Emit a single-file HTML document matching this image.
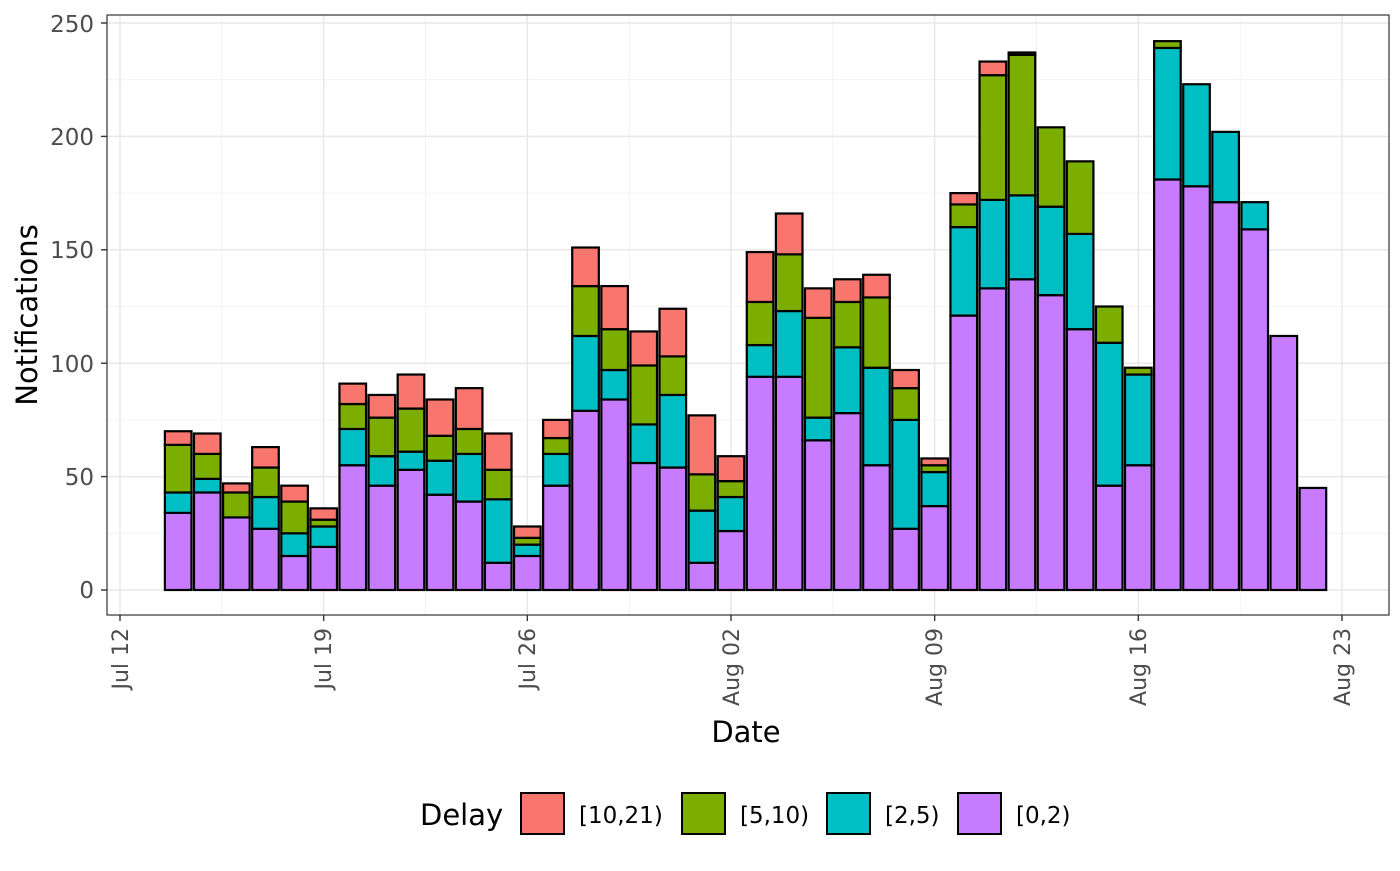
<!DOCTYPE html>
<html><head><meta charset="utf-8"><style>
body{margin:0;background:#fff;}
svg text{font-family:"DejaVu Sans","Liberation Sans",sans-serif;}
</style></head><body>
<svg id="s" width="1400" height="866" xmlns="http://www.w3.org/2000/svg">
<rect x="0" y="0" width="1400" height="866" fill="#fff"/>
<g id="grid"></g>
<g id="bars"></g>
<rect x="107" y="15" width="1282" height="600" fill="none" stroke="#333" stroke-width="1.2"/>
<g font-size="23" fill="#4D4D4D" text-anchor="end">
<text x="94" y="598">0</text><text x="94" y="485">50</text><text x="94" y="372">100</text>
<text x="94" y="258">150</text><text x="94" y="145">200</text><text x="94" y="32">250</text>
</g>
<g font-size="22" fill="#4D4D4D" text-anchor="end">
<text transform="translate(128,628) rotate(-90)">Jul 12</text>
<text transform="translate(331,628) rotate(-90)">Jul 19</text>
<text transform="translate(535,628) rotate(-90)">Jul 26</text>
<text transform="translate(739,628) rotate(-90)">Aug 02</text>
<text transform="translate(942,628) rotate(-90)">Aug 09</text>
<text transform="translate(1146,628) rotate(-90)">Aug 16</text>
<text transform="translate(1350,628) rotate(-90)">Aug 23</text>
</g>
<text x="746" y="742" font-size="29" text-anchor="middle" fill="#000">Date</text>
<text transform="translate(37,315) rotate(-90)" font-size="29" text-anchor="middle" fill="#000">Notifications</text>
<g font-size="23" fill="#000">
<text x="420" y="825" font-size="29">Delay</text>
<rect x="521" y="793" width="43" height="41" fill="#F8766D" stroke="#000" stroke-width="2"/>
<text x="579" y="823">[10,21)</text>
<rect x="682" y="793" width="43" height="41" fill="#7CAE00" stroke="#000" stroke-width="2"/>
<text x="740" y="823">[5,10)</text>
<rect x="827" y="793" width="43" height="41" fill="#00BFC4" stroke="#000" stroke-width="2"/>
<text x="885" y="823">[2,5)</text>
<rect x="958" y="793" width="43" height="41" fill="#C77CFF" stroke="#000" stroke-width="2"/>
<text x="1016" y="823">[0,2)</text>
</g>
</svg>
<script>
var ns="http://www.w3.org/2000/svg";
function el(p,t,a){var e=document.createElementNS(ns,t);for(var k in a)e.setAttribute(k,a[k]);p.appendChild(e);return e;}
var X=function(d){return 120+d*29.095;}, Y=function(v){return 590-v*2.268;};
var g=document.getElementById('grid'), b=document.getElementById('bars');
for(var v=25;v<=250;v+=50)el(g,'line',{x1:107,x2:1389,y1:Y(v),y2:Y(v),stroke:'#F0F0F0','stroke-width':0.8});
for(var d=3.5;d<42;d+=7)el(g,'line',{x1:X(d),x2:X(d),y1:15,y2:615,stroke:'#F0F0F0','stroke-width':0.8});
for(var v=0;v<=250;v+=50)el(g,'line',{x1:107,x2:1389,y1:Y(v),y2:Y(v),stroke:'#E8E8E8','stroke-width':1.5});
for(var d=0;d<=42;d+=7){el(g,'line',{x1:X(d),x2:X(d),y1:15,y2:615,stroke:'#E8E8E8','stroke-width':1.5});
 el(g,'line',{x1:X(d),x2:X(d),y1:615,y2:621,stroke:'#333','stroke-width':1.4});}
for(var v=0;v<=250;v+=50)el(g,'line',{x1:101,x2:107,y1:Y(v),y2:Y(v),stroke:'#333','stroke-width':1.4});
var data=[[34,43,64,70],[43,49,60,69],[32,32,43,47],[27,41,54,63],[15,25,39,46],[19,28,31,36],[55,71,82,91],[46,59,76,86],[53,61,80,95],[42,57,68,84],[39,60,71,89],[12,40,53,69],[15,20,23,28],[46,60,67,75],[79,112,134,151],[84,97,115,134],[56,73,99,114],[54,86,103,124],[12,35,51,77],[26,41,48,59],[94,108,127,149],[94,123,148,166],[66,76,120,133],[78,107,127,137],[55,98,129,139],[27,75,89,97],[37,52,55,58],[121,160,170,175],[133,172,227,233],[137,174,236,237],[130,169,204,204],[115,157,189,189],[46,109,125,125],[55,95,98,98],[181,239,242,242],[178,223,223,223],[171,202,202,202],[159,171,171,171],[112,112,112,112],[45,45,45,45]];
var cols=['#C77CFF','#00BFC4','#7CAE00','#F8766D'];
data.forEach(function(r,i){var c=X(i+2),w=26.6,prev=0;
 for(var k=0;k<4;k++){if(r[k]>prev){el(b,'rect',{x:c-w/2,y:Y(r[k]),width:w,height:Y(prev)-Y(r[k]),fill:cols[k],stroke:'#000','stroke-width':2.2});}prev=Math.max(prev,r[k]);}
});
</script>
</body></html>
